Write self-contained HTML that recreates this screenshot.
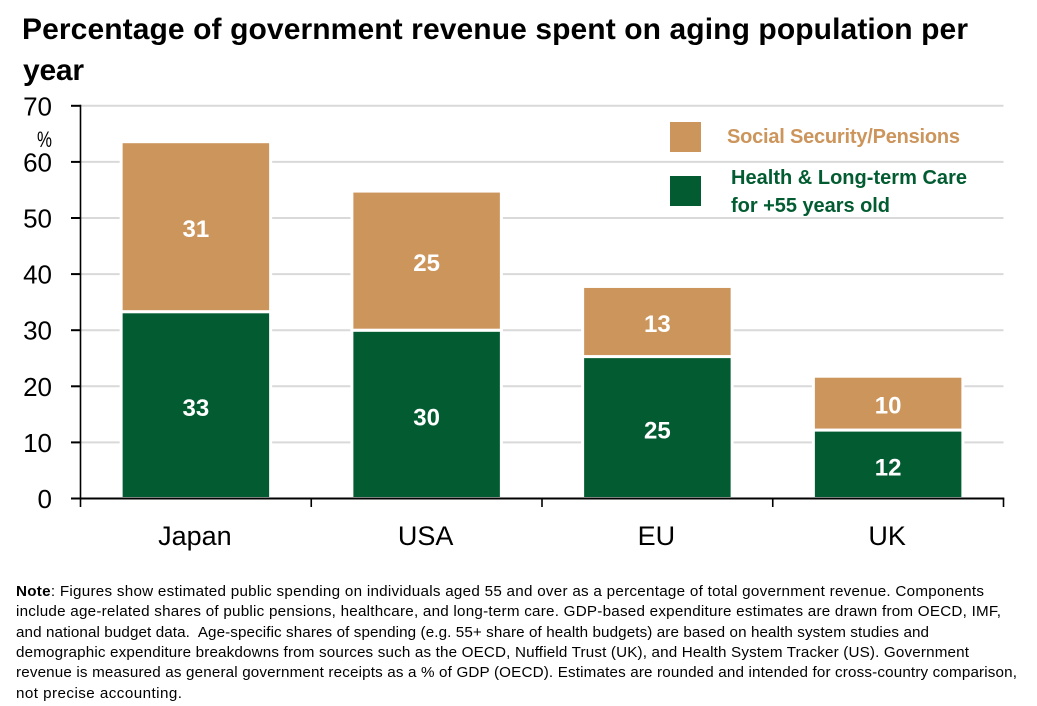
<!DOCTYPE html>
<html lang="en">
<head>
<meta charset="utf-8">
<title>Percentage of government revenue spent on aging population per year</title>
<style>
html,body{margin:0;padding:0;background:#fff;width:1037px;height:706px;overflow:hidden}
svg{display:block}
text{font-family:"Liberation Sans",sans-serif;white-space:pre}
</style>
</head>
<body>
<svg id="chart" width="1037" height="706" viewBox="0 0 1037 706" xmlns="http://www.w3.org/2000/svg">
  <g font-weight="700" font-size="30" fill="#000">
    <text x="22" y="39" textLength="946">Percentage of government revenue spent on aging population per</text>
    <text x="23" y="80" textLength="61">year</text>
  </g>
  <g id="grid"></g>
  <g id="bars"></g>
  <g id="axes"></g>
  <text x="37" y="147" font-size="22" textLength="15" lengthAdjust="spacingAndGlyphs" fill="#000">%</text>
  <g>
    <rect x="670" y="122" width="31" height="30" fill="#cc955c"></rect>
    <text x="727" y="143" font-size="20" font-weight="700" fill="#cc955c" textLength="233">Social Security/Pensions</text>
    <rect x="670" y="176" width="31" height="30" fill="#035c31"></rect>
    <text x="731" y="184" font-size="20" font-weight="700" fill="#035c31" textLength="236">Health &amp; Long-term Care</text>
    <text x="731" y="212" font-size="20" font-weight="700" fill="#035c31" textLength="159">for +55 years old</text>
  </g>
  <g font-size="15.2" fill="#000">
    <text x="16" y="596" textLength="968"><tspan font-weight="700">Note</tspan>: Figures show estimated public spending on individuals aged 55 and over as a percentage of total government revenue. Components</text>
    <text x="16" y="616" textLength="985">include age-related shares of public pensions, healthcare, and long-term care. GDP-based expenditure estimates are drawn from OECD, IMF,</text>
    <text x="16" y="637" textLength="913">and national budget data.  Age-specific shares of spending (e.g. 55+ share of health budgets) are based on health system studies and</text>
    <text x="16" y="657" textLength="953">demographic expenditure breakdowns from sources such as the OECD, Nuffield Trust (UK), and Health System Tracker (US). Government</text>
    <text x="16" y="677" textLength="1001">revenue is measured as general government receipts as a % of GDP (OECD). Estimates are rounded and intended for cross-country comparison,</text>
    <text x="16" y="698" textLength="166">not precise accounting.</text>
  </g>
</svg>
<script>
const categories = ['Japan', 'USA', 'EU', 'UK'];
const healthValues = [33.3, 30, 25.3, 12.2];
const pensionValues = [30.3, 24.8, 12.5, 9.6];
const healthLabels = ['33', '30', '25', '12'];
const pensionLabels = ['31', '25', '13', '10'];
const yTicks = [0, 10, 20, 30, 40, 50, 60, 70];

const NS = 'http://www.w3.org/2000/svg';
const plotLeft = 80.5, plotRight = 1003.5, plotBottom = 498.5, plotTop = 105.8, yMax = 70;
const barWidth = 149.5;
const y = v => plotBottom - (v / yMax) * (plotBottom - plotTop);
const bandWidth = (plotRight - plotLeft) / categories.length;
const bandLeft = i => plotLeft + i * bandWidth;
const bandCenter = i => bandLeft(i) + bandWidth / 2;

function make(parent, tag, attrs, text) {
  const el = document.createElementNS(NS, tag);
  for (const k in attrs) el.setAttribute(k, attrs[k]);
  if (text !== undefined) el.textContent = text;
  parent.appendChild(el);
  return el;
}

const grid = document.getElementById('grid');
const bars = document.getElementById('bars');
const axes = document.getElementById('axes');

yTicks.forEach(t => {
  if (t === 0) return;
  const g = make(grid, 'line', {x1: plotLeft, x2: plotRight, y1: y(t), y2: y(t), stroke: '#d9d9d9', 'stroke-width': 2});
  
  
});

categories.forEach((c, i) => {
  const x = bandCenter(i) - barWidth / 2;
  const y0 = y(0), y1 = y(healthValues[i]), y2 = y(healthValues[i] + pensionValues[i]);
  const h = make(bars, 'rect', {x: x, y: y1, width: barWidth, height: y0 - y1, fill: '#035c31', stroke: '#fff', 'stroke-width': 3});
  
  
  const p = make(bars, 'rect', {x: x, y: y2, width: barWidth, height: y1 - y2, fill: '#cc955c', stroke: '#fff', 'stroke-width': 3});
  
  
  const hl = make(bars, 'text', {x: bandCenter(i), y: (y0 + y1) / 2 + 11, 'text-anchor': 'middle', fill: '#fff', 'font-size': 24, 'font-weight': 700}, healthLabels[i]);
  
  
  const pl = make(bars, 'text', {x: bandCenter(i), y: (y1 + y2) / 2 + 10.5, 'text-anchor': 'middle', fill: '#fff', 'font-size': 24, 'font-weight': 700}, pensionLabels[i]);
  
  
  const cl = make(axes, 'text', {x: bandCenter(i) - 1, y: 545, 'text-anchor': 'middle', fill: '#000', 'font-size': 27}, c);
  
  
});

const yAxis = make(axes, 'line', {x1: plotLeft, x2: plotLeft, y1: plotTop - 1, y2: 507, stroke: '#000', 'stroke-width': 1.6});


const xAxis = make(axes, 'line', {x1: 71, x2: plotRight + 0.8, y1: plotBottom, y2: plotBottom, stroke: '#000', 'stroke-width': 2});



yTicks.forEach(t => {
  const m = make(axes, 'line', {x1: 71, x2: plotLeft, y1: y(t), y2: y(t), stroke: '#000', 'stroke-width': 2});
  
  
  const l = make(axes, 'text', {x: 52, y: y(t) + 9.5, 'text-anchor': 'end', fill: '#000', 'font-size': 26}, String(t));
  
  
});

for (let i = 1; i <= categories.length; i++) {
  const m = make(axes, 'line', {x1: bandLeft(i), x2: bandLeft(i), y1: plotBottom, y2: 507, stroke: '#000', 'stroke-width': 1.6});
  
  
}
</script>
</body>
</html>
